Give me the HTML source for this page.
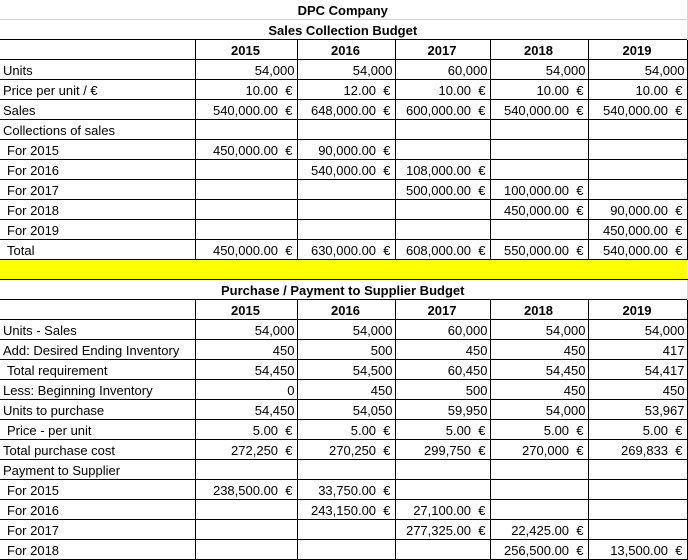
<!DOCTYPE html>
<html><head><meta charset="utf-8">
<style>
html,body{margin:0;padding:0;background:#fff;width:688px;height:555px;overflow:hidden}
table{border-collapse:collapse;table-layout:fixed;font-family:"Liberation Sans",Arial,sans-serif;font-size:13px;color:#000;position:absolute;left:0;top:-1px}
td{height:20px;padding:0 4px 0 3px;box-sizing:border-box;border:1px solid #000;white-space:nowrap;overflow:hidden;vertical-align:bottom;line-height:17px;text-align:right}
td:first-child{border-left:none}
td.l{text-align:left}
td.c{text-align:center;font-weight:bold}
td.n{padding-right:2px}
tr.t td{border:none;border-right:1px solid #d4d4d4;text-align:center;font-weight:bold}
tr.t1 td{border-bottom:1px solid #d4d4d4}
tr.y td{background:#ffff00;border-left:none;border-right:none}
td.i{padding-left:7px}
</style></head><body>
<table>
<colgroup><col style="width:195px"><col style="width:102px"><col style="width:98px"><col style="width:95px"><col style="width:98px"><col style="width:99px"></colgroup>
<tr class="t t1"><td colspan="6">DPC Company</td></tr>
<tr class="t"><td colspan="6">Sales Collection Budget</td></tr>
<tr><td></td><td class="c">2015</td><td class="c">2016</td><td class="c">2017</td><td class="c">2018</td><td class="c">2019</td></tr>
<tr><td class="l">Units</td><td class="n">54,000</td><td class="n">54,000</td><td class="n">60,000</td><td class="n">54,000</td><td class="n">54,000</td></tr>
<tr><td class="l">Price per unit / €</td><td>10.00&nbsp; €</td><td>12.00&nbsp; €</td><td>10.00&nbsp; €</td><td>10.00&nbsp; €</td><td>10.00&nbsp; €</td></tr>
<tr><td class="l">Sales</td><td>540,000.00&nbsp; €</td><td>648,000.00&nbsp; €</td><td>600,000.00&nbsp; €</td><td>540,000.00&nbsp; €</td><td>540,000.00&nbsp; €</td></tr>
<tr><td class="l">Collections of sales</td><td></td><td></td><td></td><td></td><td></td></tr>
<tr><td class="l i">For 2015</td><td>450,000.00&nbsp; €</td><td>90,000.00&nbsp; €</td><td></td><td></td><td></td></tr>
<tr><td class="l i">For 2016</td><td></td><td>540,000.00&nbsp; €</td><td>108,000.00&nbsp; €</td><td></td><td></td></tr>
<tr><td class="l i">For 2017</td><td></td><td></td><td>500,000.00&nbsp; €</td><td>100,000.00&nbsp; €</td><td></td></tr>
<tr><td class="l i">For 2018</td><td></td><td></td><td></td><td>450,000.00&nbsp; €</td><td>90,000.00&nbsp; €</td></tr>
<tr><td class="l i">For 2019</td><td></td><td></td><td></td><td></td><td>450,000.00&nbsp; €</td></tr>
<tr><td class="l i">Total</td><td>450,000.00&nbsp; €</td><td>630,000.00&nbsp; €</td><td>608,000.00&nbsp; €</td><td>550,000.00&nbsp; €</td><td>540,000.00&nbsp; €</td></tr>
<tr class="y"><td></td><td></td><td></td><td></td><td></td><td></td></tr>
<tr class="t"><td colspan="6">Purchase / Payment to Supplier Budget</td></tr>
<tr><td></td><td class="c">2015</td><td class="c">2016</td><td class="c">2017</td><td class="c">2018</td><td class="c">2019</td></tr>
<tr><td class="l">Units - Sales</td><td class="n">54,000</td><td class="n">54,000</td><td class="n">60,000</td><td class="n">54,000</td><td class="n">54,000</td></tr>
<tr><td class="l">Add: Desired Ending Inventory</td><td class="n">450</td><td class="n">500</td><td class="n">450</td><td class="n">450</td><td class="n">417</td></tr>
<tr><td class="l i">Total requirement</td><td class="n">54,450</td><td class="n">54,500</td><td class="n">60,450</td><td class="n">54,450</td><td class="n">54,417</td></tr>
<tr><td class="l">Less: Beginning Inventory</td><td class="n">0</td><td class="n">450</td><td class="n">500</td><td class="n">450</td><td class="n">450</td></tr>
<tr><td class="l">Units to purchase</td><td class="n">54,450</td><td class="n">54,050</td><td class="n">59,950</td><td class="n">54,000</td><td class="n">53,967</td></tr>
<tr><td class="l i">Price - per unit</td><td>5.00&nbsp; €</td><td>5.00&nbsp; €</td><td>5.00&nbsp; €</td><td>5.00&nbsp; €</td><td>5.00&nbsp; €</td></tr>
<tr><td class="l">Total purchase cost</td><td>272,250&nbsp; €</td><td>270,250&nbsp; €</td><td>299,750&nbsp; €</td><td>270,000&nbsp; €</td><td>269,833&nbsp; €</td></tr>
<tr><td class="l">Payment to Supplier</td><td></td><td></td><td></td><td></td><td></td></tr>
<tr><td class="l i">For 2015</td><td>238,500.00&nbsp; €</td><td>33,750.00&nbsp; €</td><td></td><td></td><td></td></tr>
<tr><td class="l i">For 2016</td><td></td><td>243,150.00&nbsp; €</td><td>27,100.00&nbsp; €</td><td></td><td></td></tr>
<tr><td class="l i">For 2017</td><td></td><td></td><td>277,325.00&nbsp; €</td><td>22,425.00&nbsp; €</td><td></td></tr>
<tr><td class="l i">For 2018</td><td></td><td></td><td></td><td>256,500.00&nbsp; €</td><td>13,500.00&nbsp; €</td></tr>
</table>
</body></html>
